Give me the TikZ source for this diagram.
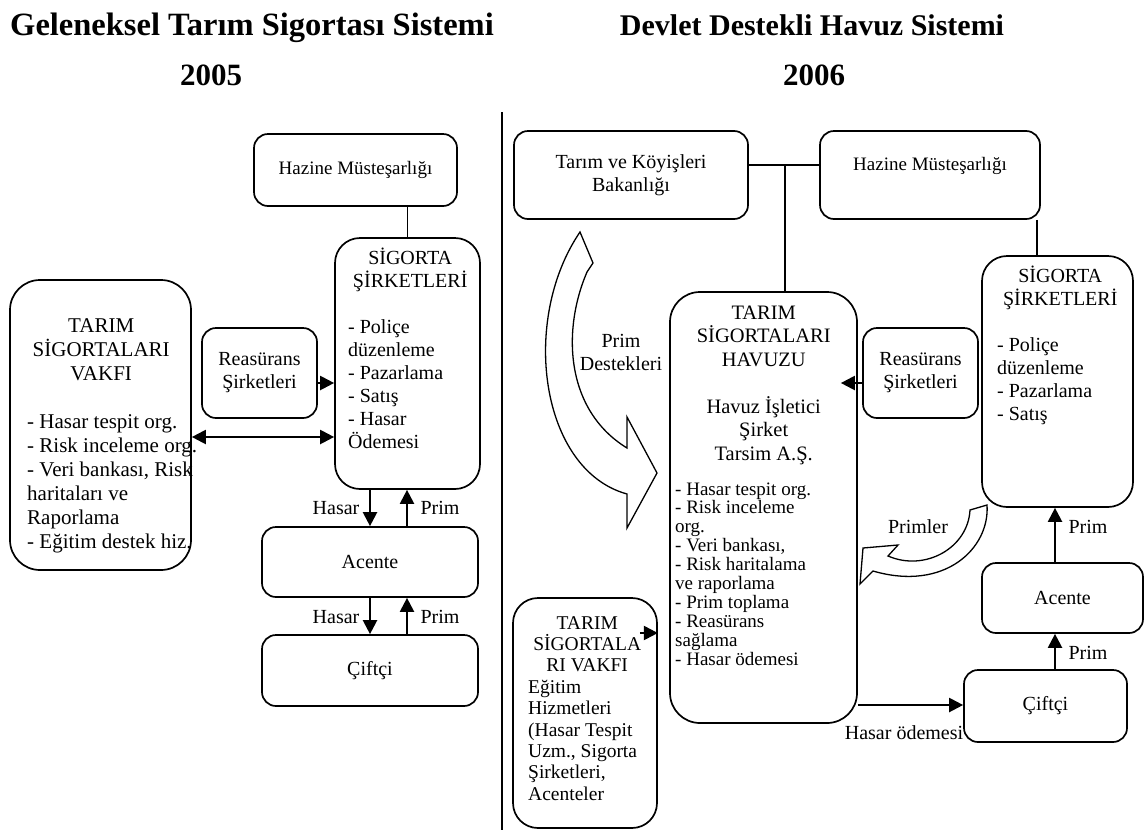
\documentclass[tikz,border=0pt]{standalone}
\usepackage{fontspec}
\setmainfont{Liberation Serif}
\usetikzlibrary{arrows.meta,calc}
\tikzset{
  rbox/.style={draw, line width=1.7pt, rounded corners=#1, inner sep=0pt, align=center, font=\fontsize{20}{23}\selectfont},
  rbox/.default=14pt,
  plain/.style={line width=1.6pt},
  conn/.style={line width=2.2pt},
  arr/.style={conn, -{Triangle[length=14pt,width=14pt]}},
  darr/.style={conn, {Triangle[length=14pt,width=14pt]}-{Triangle[length=14pt,width=14pt]}},
  lbl/.style={inner sep=0pt, font=\fontsize{20}{23}\selectfont},
  txt/.style={inner sep=0pt, anchor=base west},
  ttl/.style={inner sep=0pt, anchor=base, font=\fontsize{#1}{36}\selectfont\bfseries},
  bigarrow/.style={draw, line width=1.3pt, fill=white, line join=miter},
  hz/.style={font=\fontsize{19}{22}\selectfont},
}
\begin{document}
\begin{tikzpicture}[x=1pt,y=-1pt]
\useasboundingbox (0,0) rectangle (1147,833);
% titles
\node[ttl=32.5] (t1) at (252,35) {Geleneksel Tarım Sigortası Sistemi};
\node[ttl=30] (t2) at (812,35) {Devlet Destekli Havuz Sistemi};
\node[ttl=31] (y1) at (211,85) {2005};
\node[ttl=31] (y2) at (814,85) {2006};
% divider
\draw[line width=1.3pt] (502,112) -- (502,830);

% ---------- left ----------
\node[rbox, hz, minimum width=203pt, minimum height=72pt] (HazineL) at (355.5,170) {Hazine Müsteşarlığı};
\node[rbox=25pt, minimum width=145pt, minimum height=251pt] (SigortaL) at (407.5,363.5) {};
\node[txt] (SigortaLt) at (348,264) {\parbox[t]{250pt}{\fontsize{20}{23}\selectfont\raggedright
  \makebox[124pt]{SİGORTA}\\\makebox[124pt]{ŞİRKETLERİ}\\[23pt]- Poliçe\\düzenleme\\- Pazarlama\\- Satış\\- Hasar\\Ödemesi}};
\node[rbox, minimum width=115pt, minimum height=90pt] (ReasL) at (259.5,373) {Reasürans\\Şirketleri};
\node[rbox=30pt, minimum width=181pt, minimum height=290pt] (VakfiL) at (100.5,425) {};
\node[txt] (VakfiLt) at (27,332) {\parbox[t]{250pt}{\fontsize{21}{24}\selectfont\raggedright
  \makebox[148pt]{TARIM}\\\makebox[148pt]{SİGORTALARI}\\\makebox[148pt]{VAKFI}\\[24pt]- Hasar tespit org.\\- Risk inceleme org.\\- Veri bankası, Risk\\haritaları ve\\Raporlama\\- Eğitim destek hiz.}};
\node[rbox, minimum width=216pt, minimum height=70pt] (AcenteL) at (370,562) {Acente};
\node[rbox, minimum width=216pt, minimum height=71pt] (CiftciL) at (370,670.5) {Çiftçi};

\draw[plain] (HazineL.south -| SigortaL.north) -- (SigortaL.north);
\draw[arr] (ReasL.east |- 0,383) -- (SigortaL.west |- 0,383);
\draw[darr] (VakfiL.east |- 0,437) -- (SigortaL.west |- 0,437);
\draw[arr] (SigortaL.south -| 370,0) -- (AcenteL.north -| 370,0);
\draw[arr] (AcenteL.north -| 407,0) -- (SigortaL.south -| 407,0);
\draw[arr] (AcenteL.south -| 370,0) -- (CiftciL.north -| 370,0);
\draw[arr] (CiftciL.north -| 407,0) -- (AcenteL.south -| 407,0);
\node[lbl] (h1) at (336,508) {Hasar};
\node[lbl] (p1) at (440,508) {Prim};
\node[lbl] (h2) at (336,617) {Hasar};
\node[lbl] (p2) at (440,617) {Prim};

% ---------- right ----------
\node[rbox, minimum width=234pt, minimum height=88pt] (TarimB) at (631,175) {Tarım ve Köyişleri\\Bakanlığı};
\node[rbox, hz, minimum width=220pt, minimum height=88pt] (HazineR) at (930,175) {Hazine Müsteşarlığı\\\mbox{}};
\node[rbox=30pt, minimum width=187pt, minimum height=431pt] (Havuz) at (763.5,507.5) {};
\node[txt] (HavuzHead) at (688,319) {\parbox[t]{250pt}{\fontsize{20.5}{23.5}\selectfont\raggedright
  \makebox[151pt]{TARIM}\\\makebox[151pt]{SİGORTALARI}\\\makebox[151pt]{HAVUZU}\\[23.5pt]\makebox[151pt]{Havuz İşletici}\\\makebox[151pt]{Şirket}\\\makebox[151pt]{Tarsim A.Ş.}}};
\node[txt] (HavuzList) at (675,495) {\parbox[t]{250pt}{\fontsize{19}{18.9}\selectfont\raggedright
  - Hasar tespit org.\\- Risk inceleme\\org.\\- Veri bankası,\\- Risk haritalama\\ve raporlama\\- Prim toplama\\- Reasürans\\sağlama\\- Hasar ödemesi}};
\node[rbox, minimum width=115pt, minimum height=90pt] (ReasR) at (920.5,373) {Reasürans\\Şirketleri};
\node[rbox=25pt, minimum width=151pt, minimum height=251pt] (SigortaR) at (1057.5,381.5) {};
\node[txt] (SigortaRt) at (997,282) {\parbox[t]{250pt}{\fontsize{20}{23}\selectfont\raggedright
  \makebox[126pt]{SİGORTA}\\\makebox[126pt]{ŞİRKETLERİ}\\[23pt]- Poliçe\\düzenleme\\- Pazarlama\\- Satış}};
\node[rbox, minimum width=161pt, minimum height=70pt] (AcenteR) at (1062.5,598) {Acente};
\node[rbox, minimum width=163pt, minimum height=72pt] (CiftciR) at (1045.5,706) {Çiftçi};
\node[rbox=25pt, minimum width=144pt, minimum height=230pt] (VakfiR) at (585,713) {};
\node[txt] (VakfiRt) at (528,629) {\parbox[t]{250pt}{\fontsize{19.5}{21.4}\selectfont\raggedright
  \makebox[118pt]{TARIM}\\\makebox[118pt]{SİGORTALA}\\\makebox[118pt]{RI VAKFI}\\Eğitim\\Hizmetleri\\(Hasar Tespit\\Uzm., Sigorta\\Şirketleri,\\Acenteler}};

\coordinate (J) at (785,165);
\draw[plain] (TarimB.east |- J) -- (HazineR.west |- J);
\draw[plain] (J) -- (J |- Havuz.north);
\draw[plain] (HazineR.south -| 1037,0) -- (SigortaR.north -| 1037,0);
\draw[arr] (ReasR.west |- 0,383) -- ($(Havuz.east |- 0,383)+(-17,0)$);
\draw[arr] (Havuz.east |- 0,705) -- (CiftciR.west |- 0,705);
\draw[arr] (CiftciR.north -| 1055,0) -- (AcenteR.south -| 1055,0);
\draw[arr] (AcenteR.north -| 1055,0) -- (SigortaR.south -| 1055,0);
\draw[arr] ($(VakfiR.east |- 0,633)+(-18,0)$) -- (VakfiR.east |- 0,633);
\node[lbl] (p3) at (1088,527) {Prim};
\node[lbl] (p4) at (1088,653) {Prim};
\node[lbl] (ho) at (904,733) {Hasar ödemesi};

% curved block arrows
\draw[bigarrow] (580,232) -- (593,263) -- (587,272) .. controls (562,330) and (565,410) .. (627,448) -- (627,417) -- (657,473) -- (627,528) -- (627,494) .. controls (540,470) and (520,320) .. (580,232) -- cycle;
\node[lbl, align=center] (pd) at (621,352) {Prim\\Destekleri};
\draw[bigarrow] (987,505) .. controls (990,548) and (945,592) .. (873,571) -- (860,584) -- (863,548) -- (898,545) -- (888,556) .. controls (925,572) and (968,548) .. (970,510) -- cycle;
\node[lbl] (pr) at (918,527) {Primler};
\end{tikzpicture}
\end{document}
